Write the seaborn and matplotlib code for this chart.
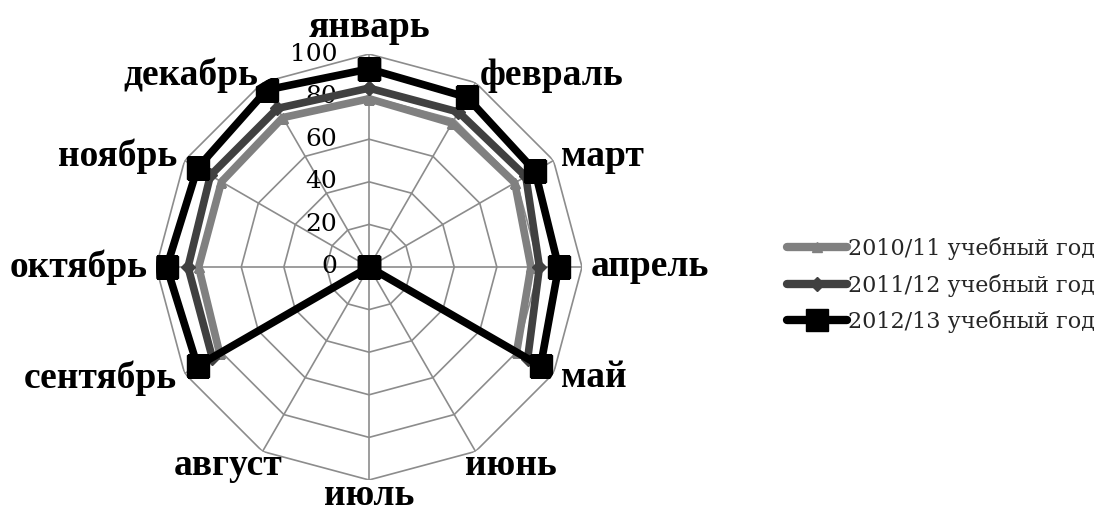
import numpy as np
import matplotlib
matplotlib.use("Agg")
import matplotlib.pyplot as plt
import seaborn as sns

months = ["январь", "февраль", "март", "апрель", "май", "июнь",
          "июль", "август", "сентябрь", "октябрь", "ноябрь", "декабрь"]
levels = [0, 20, 40, 60, 80, 100]

series_names = ["2010/11 учебный год", "2011/12 учебный год", "2012/13 учебный год"]
vals_2010 = [79, 78, 79, 76, 80, np.nan, np.nan, np.nan, 81, 80, 80, 81]
vals_2011 = [84, 84, 85, 80, 86, np.nan, np.nan, np.nan, 85, 85, 86, 86]
vals_2012 = [93, 92, 90, 89, 93, 0, 0, 0, 93, 95, 93, 96]

sns.set_theme(style="white")
plt.rcParams["font.family"] = ["Liberation Serif", "DejaVu Serif"]

fig = plt.figure(figsize=(10.99, 5.26), dpi=100)
ax = fig.add_axes([0.1420, 0.0874, 0.3876, 0.81], projection="polar")
ax.set_theta_zero_location("N")
ax.set_theta_direction(-1)
ax.set_ylim(0, 100)
ax.grid(False)
ax.spines["polar"].set_visible(False)
ax.set_xticks([])
ax.set_yticks([])
ax.set_facecolor("white")

angles = np.linspace(0, 2 * np.pi, len(months), endpoint=False)
closed = np.append(angles, angles[0])

# polygon grid
for lv in levels[1:]:
    ax.plot(closed, [lv] * len(closed), color="#8c8c8c", lw=1.2, zorder=1)
for a in angles:
    ax.plot([a, a], [0, levels[-1]], color="#8c8c8c", lw=1.2, zorder=1)

# value labels along the top spoke
for lv in levels:
    ax.annotate(str(lv), xy=(0, lv), xytext=(-32, 0), textcoords="offset pixels",
                ha="right", va="center", fontsize=18, family=["DejaVu Serif"],
                color="black", zorder=2)

styles = [
    (vals_2010, "#808080", "^", 7),
    (vals_2011, "#404040", "D", 7),
    (vals_2012, "#000000", "s", 16),
]
handles = []
for (vals, col, mk, ms), name in zip(styles, series_names):
    v = np.append(vals, vals[0])
    h, = ax.plot(closed, v, color=col, lw=5.5, marker=mk, markersize=ms,
                 markerfacecolor=col, markeredgecolor=col, label=name, zorder=3,
                 solid_joinstyle="miter")
    handles.append(h)

# month labels
for i, (a, m) in enumerate(zip(angles, months)):
    s, c = np.sin(a), np.cos(a)
    ha = "left" if s > 0.1 else ("right" if s < -0.1 else "center")
    va = "bottom" if c > 0.9 else ("top" if c < -0.9 else "center")
    r, dx = 104, 0
    if c < -0.9:
        r = 99
    if i == 5:
        ha, va, r, dx = "left", "top", 98, -8
    if i == 7:
        ha, va, r, dx = "right", "top", 98, 18
    ax.annotate(m, xy=(a, r), xytext=(dx, 0), textcoords="offset pixels",
                ha=ha, va=va, fontsize=27, fontweight="bold",
                color="black", annotation_clip=False)

leg = fig.legend(handles=handles, loc="center left",
                 bbox_to_anchor=(0.698, 0.458), frameon=False,
                 prop={"family": ["DejaVu Serif"], "size": 16},
                 handlelength=2.7, handletextpad=0.05, labelspacing=0.6)
for lh in leg.get_lines():
    lh.set_linewidth(6)

fig.savefig("out.png", dpi=100, facecolor="white")
